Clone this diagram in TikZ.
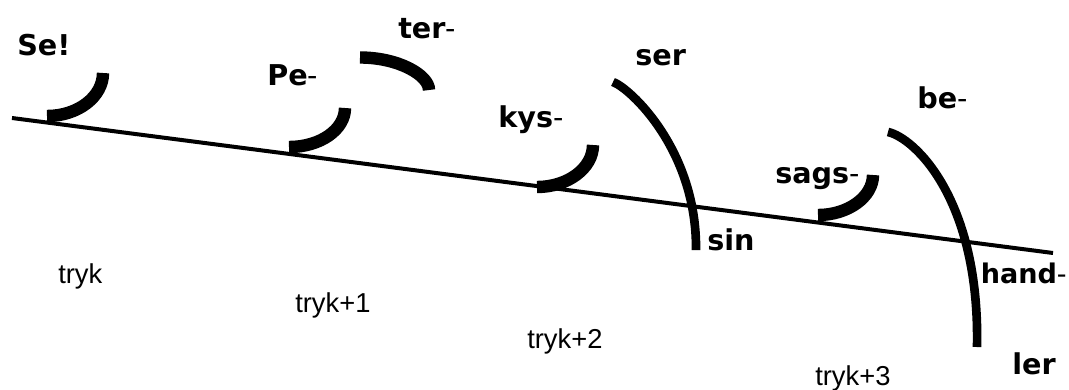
\documentclass[tikz,border=0pt]{standalone}
\usepackage{fontspec}
\setmainfont{Liberation Sans}
\newfontfamily\lblfont{DejaVu Sans}
\newcommand{\wb}[1]{{\lblfont\bfseries #1}}
\newcommand{\hy}{{\lblfont -}}
\begin{document}
\begin{tikzpicture}[x=0.75pt,y=-0.75pt,
  word/.style={anchor=base west,inner sep=0pt,font=\fontsize{21.5}{25}\selectfont},
  tryklbl/.style={anchor=base west,inner sep=0pt,font=\fontsize{20.5}{24}\selectfont},
  axisline/.style={line width=3pt,black},
  bracket/.style={line width=9.3pt,black,line cap=butt},
  longarc/.style={line width=6.5pt,black,line cap=butt}]
\useasboundingbox (0,0) rectangle (1069,389);
% main line
\coordinate (la) at (12,118);
\coordinate (lb) at (1053,253);
\draw[axisline] (la) -- (lb);
% short arcs
\draw[bracket] (103,73) .. controls (103,96.7) and (78,116) .. (47,116);
\draw[bracket] (345,108) .. controls (345,129.5) and (320.4,147) .. (289,147);
\draw[bracket] (593,145) .. controls (593,168) and (568,187) .. (537,187);
\draw[bracket] (873,175) .. controls (873,197) and (848,215) .. (818,215);
\draw[bracket] (360,57.5) .. controls (398.6,57.5) and (429,75.2) .. (429,90);
% long arcs
\draw[longarc] (613,82) .. controls (630,88) and (697,150) .. (696,250);
\draw[longarc] (888,132) .. controls (915,138) and (980,200) .. (977,347);
% labels
\node[word] (se) at (17,55) {\wb{Se!}};
\node[word] (pe) at (267,85) {\wb{Pe}\hy};
\node[word] (ter) at (398,38) {\wb{ter}\hy};
\node[word] (kys) at (498,127) {\wb{kys}\hy};
\node[word] (ser) at (635,65) {\wb{ser}};
\node[word] (sin) at (707,250) {\wb{sin}};
\node[word] (sags) at (775,183) {\wb{sags}\hy};
\node[word] (be) at (917,108) {\wb{be}\hy};
\node[word,font=\fontsize{20.3}{24}\selectfont] (hand) at (980.5,283) {\wb{hand}\hy};
\node[word] (ler) at (1012,374) {\wb{ler}};
\node[tryklbl] (t0) at (58,283) {tryk};
\node[tryklbl] (t1) at (295,312) {tryk+1};
\node[tryklbl] (t2) at (527,348) {tryk+2};
\node[tryklbl] (t3) at (815,385) {tryk+3};
\end{tikzpicture}
\end{document}
